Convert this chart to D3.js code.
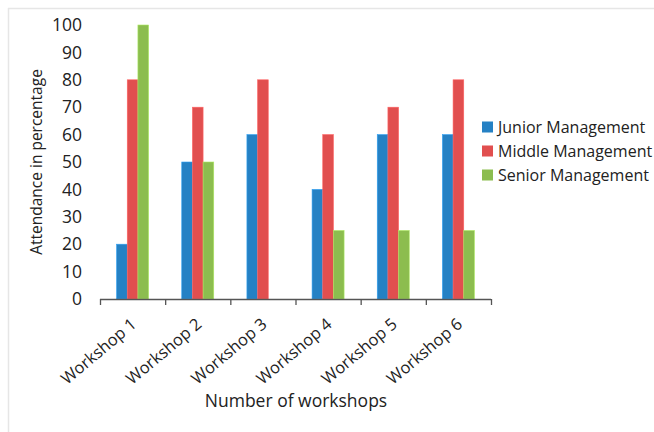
<!DOCTYPE html>
<html>
<head>
<meta charset="utf-8">
<script src="https://cdn.jsdelivr.net/npm/d3@7"></script>
<style>
  html, body { margin: 0; padding: 0; background: #fff; }
  svg { display: block; font-family: "Open Sans", "DejaVu Sans", sans-serif; }
</style>
</head>
<body>
<svg id="chart" width="654" height="432"></svg>
<script>
// Workshop attendance by management level (%)
const workshops = ["Workshop 1", "Workshop 2", "Workshop 3", "Workshop 4", "Workshop 5", "Workshop 6"];
const seriesNames = ["Junior Management", "Middle Management", "Senior Management"];
const juniorValues = [20, 50, 60, 40, 60, 60];
const middleValues = [80, 70, 80, 60, 70, 80];
const seniorValues = [100, 50, 0, 25, 25, 25];
const yTicks = [0, 10, 20, 30, 40, 50, 60, 70, 80, 90, 100];
const colors = ["#2581c4", "#e14f4f", "#8cbd4f"];

const seriesValues = [juniorValues, middleValues, seniorValues];

const svg = d3.select("#chart");

// Light frame around the chart area
svg.append("line").attr("x1", 8).attr("x2", 654).attr("y1", 8.5).attr("y2", 8.5)
  .attr("stroke", "#e6e6e6").attr("stroke-width", 1.5);
svg.append("line").attr("x1", 8.5).attr("x2", 8.5).attr("y1", 8).attr("y2", 432)
  .attr("stroke", "#e6e6e6").attr("stroke-width", 1.5);

const plot = { left: 100, right: 491, top: 25, bottom: 299 };

const x = d3.scaleBand().domain(workshops).range([plot.left, plot.right]).paddingInner(0).paddingOuter(0);
const inner = d3.scaleBand().domain(seriesNames).range([0, 32]).padding(0);
const y = d3.scaleLinear().domain([0, 100]).range([plot.bottom, plot.top]);

// Bars
const groups = svg.append("g").selectAll("g")
  .data(workshops)
  .join("g")
  .attr("transform", d => `translate(${x(d) + (x.bandwidth() - inner.range()[1]) / 2},0)`);

groups.selectAll("rect")
  .data((d, i) => seriesNames.map((s, j) => ({ s, j, v: seriesValues[j][i] })))
  .join("rect")
  .attr("x", d => inner(d.s))
  .attr("width", inner.bandwidth())
  .attr("y", d => y(d.v))
  .attr("height", d => y(0) - y(d.v))
  .attr("fill", d => colors[d.j])
  .attr("stroke", d => d3.color(colors[d.j]).brighter(0.6))
  .attr("stroke-width", 0.6);

// Y axis labels (no axis line)
const yAxis = svg.append("g")
  .attr("transform", `translate(${plot.left},0)`)
  .call(d3.axisLeft(y).tickValues(yTicks).tickSize(0).tickPadding(18).tickFormat(d3.format("d")));
yAxis.select(".domain").remove();
yAxis.selectAll("text")
  .attr("font-family", "'Open Sans', sans-serif")
  .attr("font-size", 17.5)
  .attr("fill", "#222");

// X axis with outward ticks at band boundaries
const xAxisG = svg.append("g").attr("transform", `translate(0,${plot.bottom})`);
xAxisG.append("line")
  .attr("x1", plot.left).attr("x2", plot.right).attr("y1", 0.5).attr("y2", 0.5)
  .attr("stroke", "#555").attr("stroke-width", 1.3);
const boundaries = workshops.map(d => x(d)).concat([plot.right]);
xAxisG.selectAll("line.tick")
  .data(boundaries)
  .join("line")
  .attr("class", "tick")
  .attr("x1", d => d + 0.5).attr("x2", d => d + 0.5)
  .attr("y1", 0).attr("y2", 6)
  .attr("stroke", "#555").attr("stroke-width", 1.3);

xAxisG.selectAll("text")
  .data(workshops)
  .join("text")
  .attr("transform", d => `translate(${x(d) + x.bandwidth() / 2 + 5},${27}) rotate(-40)`)
  .attr("text-anchor", "end")
  .attr("font-size", 16.5)
  .attr("fill", "#222")
  .text(d => d);

// Axis titles
svg.append("text")
  .attr("transform", `translate(42,${162}) rotate(-90)`)
  .attr("text-anchor", "middle")
  .attr("font-size", 15.5)
  .attr("fill", "#222")
  .text("Attendance in percentage");

svg.append("text")
  .attr("x", 296).attr("y", 407)
  .attr("text-anchor", "middle")
  .attr("font-size", 17.5)
  .attr("fill", "#222")
  .text("Number of workshops");

// Legend
const legend = svg.append("g").attr("transform", "translate(482,0)");
const legendRows = [127, 151, 175];
const items = legend.selectAll("g")
  .data(seriesNames)
  .join("g")
  .attr("transform", (d, i) => `translate(0,${legendRows[i]})`);
items.append("rect")
  .attr("x", 0).attr("y", -5.5).attr("width", 11).attr("height", 11)
  .attr("fill", (d, i) => colors[i]);
items.append("text")
  .attr("x", 16).attr("y", 0).attr("dy", "0.35em")
  .attr("font-size", 16)
  .attr("fill", "#222")
  .text(d => d);
</script>
</body>
</html>
